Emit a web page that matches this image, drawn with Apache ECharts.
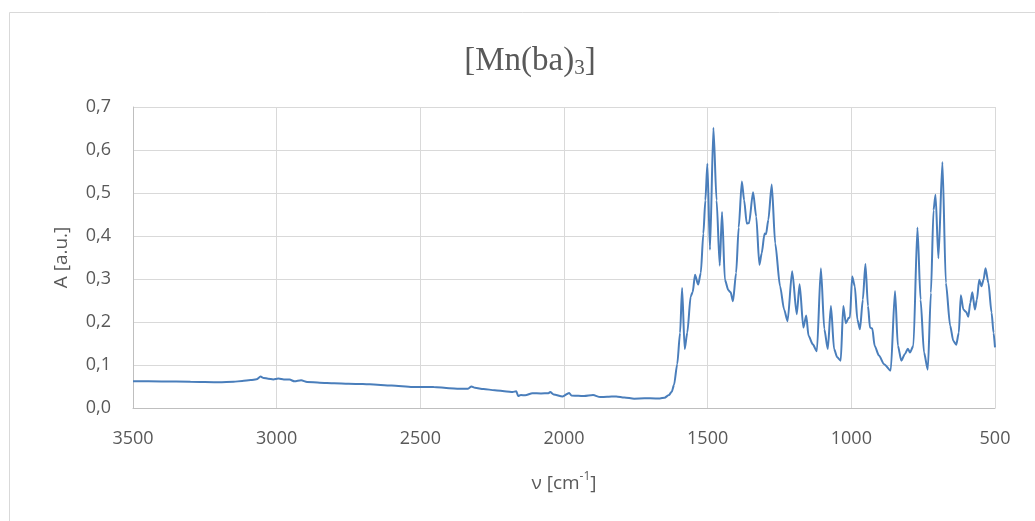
<!DOCTYPE html>
<html>
<head>
<meta charset="utf-8">
<script src="https://cdn.jsdelivr.net/npm/echarts@6/dist/echarts.min.js"></script>
<style>html,body{margin:0;padding:0;background:#fff}#c{width:1035px;height:521px}</style>
</head>
<body>
<div id="c"></div>
<script>
// Wavenumbers (cm^-1) and absorbance, baseline region 3500-1650
const baseWn = [3500,3400,3300,3200,3150,3120,3090,3070,3056,3045,3030,3012,2994,2975,2955,2938,2915,2894,2850,2800,2750,2700,2676,2600,2527,2453,2400,2365,2334,2322,2310,2280,2241,2200,2179,2166,2160,2150,2135,2110,2080,2054,2048,2036,2005,1982,1974,1950,1930,1899,1874,1850,1818,1790,1756,1720,1681,1666,1650];
const baseA  = [0.0623,0.0618,0.0612,0.0600,0.0608,0.0630,0.0650,0.0668,0.0730,0.0700,0.0680,0.0665,0.0685,0.0665,0.0660,0.0620,0.0645,0.0605,0.0590,0.0575,0.0562,0.0556,0.0550,0.0525,0.0490,0.0488,0.0462,0.0445,0.0448,0.0500,0.0470,0.0440,0.0415,0.0385,0.0370,0.0390,0.0280,0.0300,0.0295,0.0345,0.0340,0.0345,0.0370,0.0315,0.0270,0.0350,0.0290,0.0285,0.0277,0.0300,0.0254,0.0262,0.0270,0.0245,0.0218,0.0225,0.0223,0.0222,0.0240];
// Carbonyl / aromatic region 1635-1019
const midWn = [1635,1625,1617,1606,1596,1589,1580,1571,1559,1552,1544,1533,1524,1515,1508,1501,1492,1480,1469,1458,1450,1440,1428,1420,1412,1401,1392,1381,1373,1364,1356,1342,1331,1320,1312,1302,1297,1289,1277,1265,1248,1234,1222,1206,1190,1180,1167,1157,1149,1134,1120,1106,1094,1082,1071,1060,1049,1037,1028,1019];
const midA  = [0.030,0.038,0.054,0.102,0.175,0.279,0.137,0.175,0.260,0.270,0.310,0.287,0.314,0.406,0.483,0.568,0.368,0.652,0.483,0.331,0.456,0.298,0.274,0.269,0.248,0.314,0.420,0.527,0.483,0.429,0.430,0.502,0.445,0.333,0.360,0.406,0.404,0.437,0.520,0.383,0.283,0.229,0.202,0.318,0.218,0.288,0.187,0.215,0.168,0.148,0.132,0.325,0.183,0.137,0.237,0.137,0.118,0.110,0.237,0.197];
// Fingerprint region 1009-500
const lowWn = [1009,1005,997,988,979,970,960,951,942,935,927,919,904,886,863,848,838,826,814,803,796,784,770,759,747,734,723,714,707,697,683,671,656,645,635,626,619,610,600,593,586,579,570,563,555,547,540,533,523,512,505,500];
const lowA  = [0.210,0.210,0.306,0.283,0.206,0.183,0.252,0.335,0.237,0.187,0.185,0.145,0.122,0.102,0.087,0.272,0.145,0.110,0.125,0.138,0.129,0.145,0.420,0.252,0.129,0.089,0.268,0.460,0.496,0.348,0.572,0.291,0.191,0.156,0.147,0.175,0.262,0.229,0.223,0.212,0.245,0.269,0.229,0.252,0.298,0.283,0.298,0.325,0.291,0.222,0.175,0.141];
const xTicks = [3500,3000,2500,2000,1500,1000,500];
const yTicks = [0,0.1,0.2,0.3,0.4,0.5,0.6,0.7];

const wn = baseWn.concat(midWn, lowWn);
const ab = baseA.concat(midA, lowA);
const data = wn.map((w,i)=>[w, ab[i]]);

const chart = echarts.init(document.getElementById('c'), null, {renderer:'canvas'});
const lab = '#595959';
chart.setOption({
  backgroundColor:'#fff',
  animation:false,
  graphic:[{type:'rect', left:7, top:10, shape:{width:1100, height:600}, style:{fill:'none', stroke:'#D9D9D9', lineWidth:1}, silent:true, z:-1}],
  title:{
    text:'{a|[Mn(ba)}{s|3}{a|]}',
    left:525, top:38, textAlign:'center',
    textStyle:{fontWeight:'normal', rich:{
      a:{fontFamily:'Liberation Serif', fontSize:33, fontWeight:'normal', color:lab, lineHeight:36},
      s:{fontFamily:'Liberation Serif', fontSize:21, fontWeight:'normal', color:lab, lineHeight:18, verticalAlign:'bottom'}
    }}
  },
  grid:{left:133, right:40, top:107, bottom:113, containLabel:false},
  xAxis:{
    type:'value', inverse:true, min:500, max:3500, interval:500,
    name:'{a|ν [cm}{s|-1}{a|]}', nameLocation:'middle', nameGap:63,
    nameTextStyle:{rich:{
      a:{fontFamily:'Open Sans', fontSize:19, color:lab, lineHeight:26},
      s:{fontFamily:'Open Sans', fontSize:12, color:lab, lineHeight:13, verticalAlign:'top'}
    }},
    axisLine:{show:true, onZero:false, lineStyle:{color:'#BFBFBF', width:1}},
    axisTick:{show:false},
    axisLabel:{color:lab, fontFamily:'Open Sans', fontSize:18, margin:22,
      formatter:v=>xTicks.includes(v)?String(v):''},
    splitLine:{show:true, lineStyle:{color:'#D9D9D9', width:1}}
  },
  yAxis:{
    type:'value', min:0, max:0.7, interval:0.1,
    name:'A [a.u.]', nameLocation:'middle', nameGap:62,
    nameTextStyle:{fontFamily:'Open Sans', fontSize:19, color:lab},
    axisLine:{show:true, lineStyle:{color:'#BFBFBF', width:1}},
    axisTick:{show:false},
    axisLabel:{color:lab, fontFamily:'Open Sans', fontSize:18, margin:22,
      formatter:v=>{const t=yTicks.find(y=>Math.abs(y-v)<1e-6); return t===undefined?'':t.toFixed(1).replace('.',',');}},
    splitLine:{show:true, lineStyle:{color:'#D9D9D9', width:1}}
  },
  series:[{
    type:'line', data:data, showSymbol:false, smooth:0.25, smoothMonotone:'x',
    lineStyle:{color:'#4A7EBB', width:2}, clip:true
  }]
});
</script>
</body>
</html>
